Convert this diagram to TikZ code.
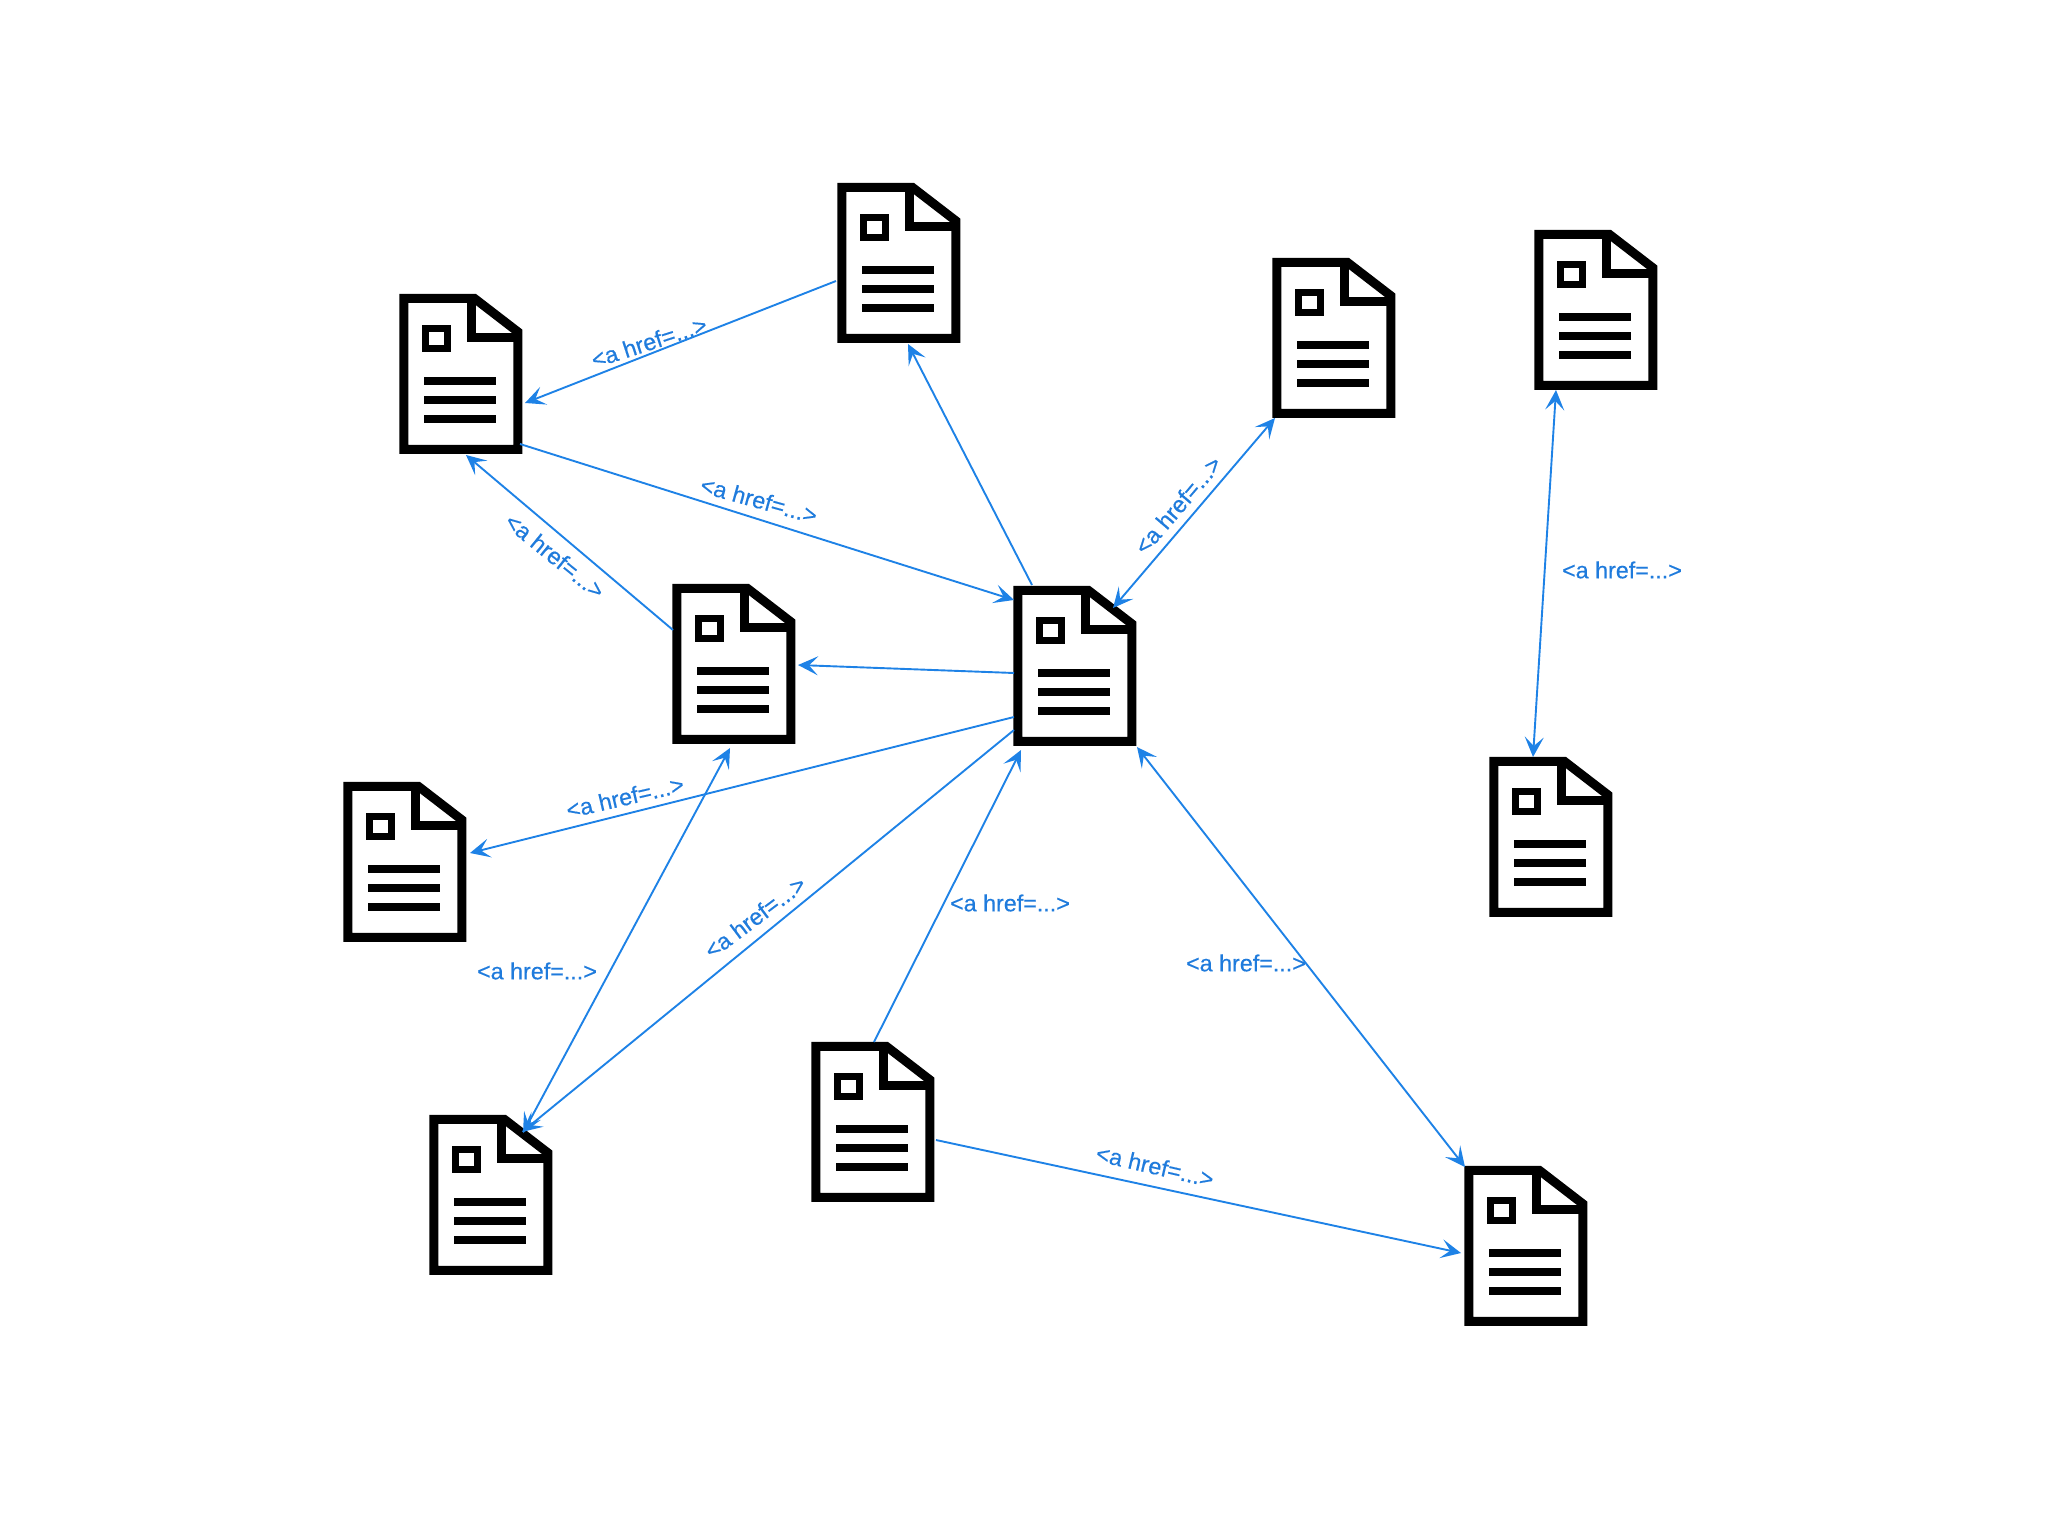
\documentclass[tikz,border=0pt]{standalone}
\usepackage{fontspec}
\setmainfont{Liberation Sans}
\newfontfamily\hreffont[FakeBold=0.4]{Liberation Sans}
\usetikzlibrary{arrows.meta,calc}
\definecolor{linkblue}{HTML}{1E82E6}
\definecolor{textblue}{HTML}{1F7BDC}
\tikzset{
  docbox/.style={rectangle,minimum width=123pt,minimum height=160pt,inner sep=0pt},
  docline/.style={draw=black,line width=9pt,miter limit=10},
  docthin/.style={draw=black,line width=7pt},
  docbar/.style={draw=black,line width=8pt},
  linkone/.style={draw=linkblue,line width=1.9pt,-{Stealth[length=20pt,width=19pt,inset=9pt]}},
  linktwo/.style={draw=linkblue,line width=1.9pt,{Stealth[length=20pt,width=19pt,inset=9pt]}-{Stealth[length=20pt,width=19pt,inset=9pt]}},
  hreflabel/.style={text=textblue,font=\hreffont\fontsize{23.3}{26}\selectfont,inner sep=0pt}
}
\newcommand{\docnode}[3]{%
  \node[docbox] (#1) at (#2,#3) {};
  \begin{scope}[shift={(#1.north west)}]
    \draw[docline,fill=white] (4.5,4.5) -- (75,4.5) -- (118.5,38) -- (118.5,155.5) -- (4.5,155.5) -- cycle;
    \draw[docline] (72,4.5) -- (72,44) -- (118.5,44);
    \draw[docthin] (26,35) rectangle (48,55);
    \draw[docbar] (25,87) -- (97,87) (25,106) -- (97,106) (25,125) -- (97,125);
  \end{scope}}
\begin{document}
\begin{tikzpicture}[x=1pt,y=-1pt]
\useasboundingbox (0,0) rectangle (2048,1536);
\docnode{d1}{899}{263}
\docnode{d2}{461}{374}
\docnode{d3}{1334}{338}
\docnode{d4}{1596}{310}
\docnode{d5}{734}{664}
\docnode{d6}{1075}{666}
\docnode{d7}{405}{862}
\docnode{d8}{1551}{837}
\docnode{d9}{491}{1195}
\docnode{d10}{873}{1122}
\docnode{d11}{1526}{1246}
\draw[linkone] ($(d1)+(-63,18)$) -- ($(d2)+(64,29)$);
\draw[linkone] ($(d2)+(59,70)$) -- ($(d6)+(-61,-66)$);
\draw[linkone] ($(d5)+(-61,-34)$) -- ($(d2)+(5,81)$);
\draw[linkone] ($(d6)+(-43,-81)$) -- ($(d1)+(9,81)$);
\draw[linktwo] ($(d6)+(38,-58)$) -- ($(d3)+(-59,80)$);
\draw[linkone] ($(d6)+(-61,7)$) -- ($(d5)+(64,1)$);
\draw[linkone] ($(d6)+(-61,51)$) -- ($(d7)+(65,-9)$);
\draw[linkone] ($(d6)+(-61,64)$) -- ($(d9)+(31,-63)$);
\draw[linktwo] ($(d5)+(-4,84)$) -- ($(d9)+(32,-62)$);
\draw[linkone] ($(d10)+(1,-80)$) -- ($(d6)+(-54,84)$);
\draw[linktwo] ($(d6)+(62,81)$) -- ($(d11)+(-61,-79)$);
\draw[linkone] ($(d10)+(63,18)$) -- ($(d11)+(-65,7)$);
\draw[linktwo] ($(d4)+(-40,80)$) -- ($(d8)+(-18,-80)$);
\node[hreflabel,rotate=18] (l1) at (649,342) {<a href=...>};
\node[hreflabel,rotate=-15.5] (l2) at (759,500) {<a href=...>};
\node[hreflabel,rotate=-39] (l3) at (555,556) {<a href=...>};
\node[hreflabel,rotate=49.5] (l4) at (1178,505) {<a href=...>};
\node[hreflabel,rotate=13] (l5) at (625,797) {<a href=...>};
\node[hreflabel] (l6) at (537,971) {<a href=...>};
\node[hreflabel,rotate=37] (l7) at (755,917) {<a href=...>};
\node[hreflabel] (l8) at (1010,903) {<a href=...>};
\node[hreflabel] (l9) at (1246,963) {<a href=...>};
\node[hreflabel,rotate=-13] (l10) at (1155,1166) {<a href=...>};
\node[hreflabel] (l11) at (1622,570) {<a href=...>};
\end{tikzpicture}
\end{document}
